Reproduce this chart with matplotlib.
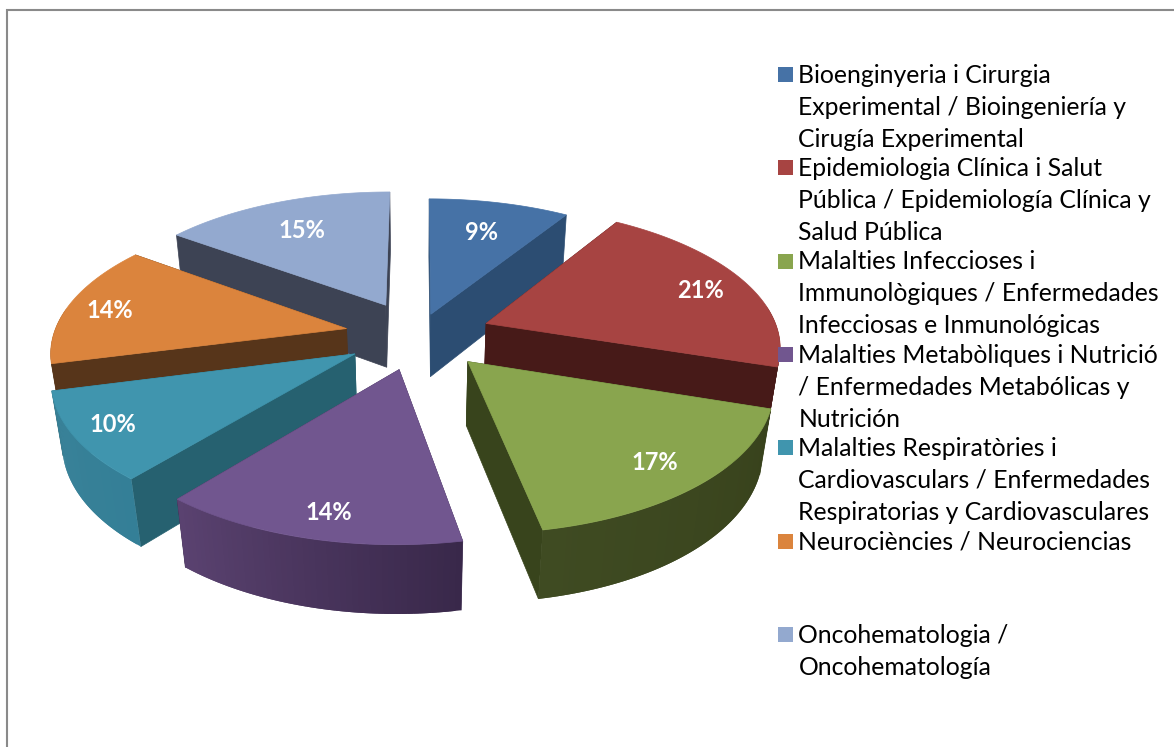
"""
Exploded 3D pie of research areas, drawn by hand since matplotlib has no 3D pie
"""

import numpy as np
import matplotlib.pyplot as plt
from matplotlib.collections import PolyCollection
from matplotlib.colors import to_rgb
from matplotlib.patches import Polygon, Rectangle

shares = [9, 21, 17, 14, 10, 14, 15]
explode = [0.16, 0.25, 0.25, 0.25, 0.25, 0.25, 0.25]
top_colors = ["#4672a6", "#a74442", "#89a54e", "#71568f", "#4095ae", "#db843d", "#93a9cf"]
wall_colors = ["#2c4d72", "#471a18", "#38441c", "#3e2d50", "#266170", "#57351a", "#3d4354"]
rim_start = ["#2c4d72", "#471a18", "#38421c", "#39284a", "#347f97", "#57351a", "#3d4354"]
rim_end = ["#2c4d72", "#471a18", "#3f4b22", "#5a4270", "#3a8298", "#57351a", "#3d4354"]
label_pos = [(482, 231), (701, 289), (655, 461), (329, 511), (113, 423), (110, 309), (302, 229)]

legend_lines = [
    ["Bioenginyeria i Cirurgia", "Experimental / Bioingeniería y", "Cirugía Experimental"],
    ["Epidemiologia Clínica i Salut", "Pública / Epidemiología Clínica y", "Salud Pública"],
    ["Malalties Infeccioses i", "Immunològiques / Enfermedades", "Infecciosas e Inmunológicas"],
    ["Malalties Metabòliques i Nutrició", "/ Enfermedades Metabólicas y", "Nutrición"],
    ["Malalties Respiratòries i", "Cardiovasculars / Enfermedades", "Respiratorias y Cardiovasculares"],
    ["Neurociències / Neurociencias"],
    ["Oncohematologia /", "Oncohematología"],
]

# projection of the unit disc onto the picture, in pixels
CX, CY = 418, 335
A, B = 293, 138
P, Q = 0.147, 0.03
DEPTH = 65


def project(x, y, z=0.0):
    denom = 1 + P * y + Q * z
    return CX + A * x / denom, CY - (B * y - DEPTH * z) / denom


def quad(p1, p2):
    # wall between two disc points, from the top face down to the bottom face
    return [project(*p1), project(*p2), project(*p2, 1.0), project(*p1, 1.0)]


def draw_slice(ax, start, end, offset, top, wall, rim0, rim1):
    mid = np.radians((start + end) / 2)
    ox, oy = offset * np.sin(mid), offset * np.cos(mid)
    angles = np.radians(np.arange(start, end + 0.5, 1.0))
    angles[-1] = np.radians(end)
    rim = [(ox + np.sin(t), oy + np.cos(t)) for t in angles]
    apex = (ox, oy)

    # radial walls, the one further back first
    walls = sorted([rim[0], rim[-1]], key=lambda p: -p[1])
    for p in walls:
        ax.add_patch(Polygon(quad(apex, p), fc=wall, ec=wall, lw=0.5))

    # outer wall, only the part that faces the viewer
    # the strips overlap the next one so no seams show between them
    polys, colors = [], []
    c0, c1 = np.array(to_rgb(rim0)), np.array(to_rgb(rim1))
    for i in range(len(rim) - 1):
        if np.cos(angles[i]) < 0.12 or np.cos(angles[i + 1]) < 0.12:
            polys.append(quad(rim[i], rim[min(i + 2, len(rim) - 1)]))
            colors.append(c0 + (c1 - c0) * i / max(len(rim) - 2, 1))
    if polys:
        ax.add_collection(PolyCollection(polys, facecolors=colors, edgecolors="none"))

    outline = [project(*apex)] + [project(*p) for p in rim]
    ax.add_patch(Polygon(outline, fc=top, ec=top, lw=0.5))


fig = plt.figure(figsize=(11.74, 7.47), dpi=100)
ax = fig.add_axes([0, 0, 1, 1])
ax.set_xlim(0, 1174)
ax.set_ylim(747, 0)
ax.axis("off")

# frame of the chart area, it runs off the picture on the right and at the bottom
ax.plot([7, 7, 1174], [747, 10, 10], color="#8a8a8a", lw=1.5, solid_joinstyle="miter")

edges = np.concatenate([[0], np.cumsum(shares)]) * 3.6
order = sorted(range(len(shares)), key=lambda i: -np.cos(np.radians((edges[i] + edges[i + 1]) / 2)))
for i in order:
    draw_slice(ax, edges[i], edges[i + 1], explode[i], top_colors[i], wall_colors[i], rim_start[i], rim_end[i])

for share, pos in zip(shares, label_pos):
    ax.text(pos[0], pos[1] + 1.5, f"{share}%", color="white", fontsize=17, fontweight="bold",
            family="Lato", ha="center", va="center")

for i, lines in enumerate(legend_lines):
    y0 = 74.5 + 93.3 * i
    ax.add_patch(Rectangle((778, y0 - 7.5), 15, 15, fc=top_colors[i], ec="none"))
    for j, line in enumerate(lines):
        ax.text(798.5, y0 + 0.8 + 32 * j, line, color="black", fontsize=17.8, family="Lato",
                ha="left", va="center")

fig.savefig("out.png", dpi=100)
